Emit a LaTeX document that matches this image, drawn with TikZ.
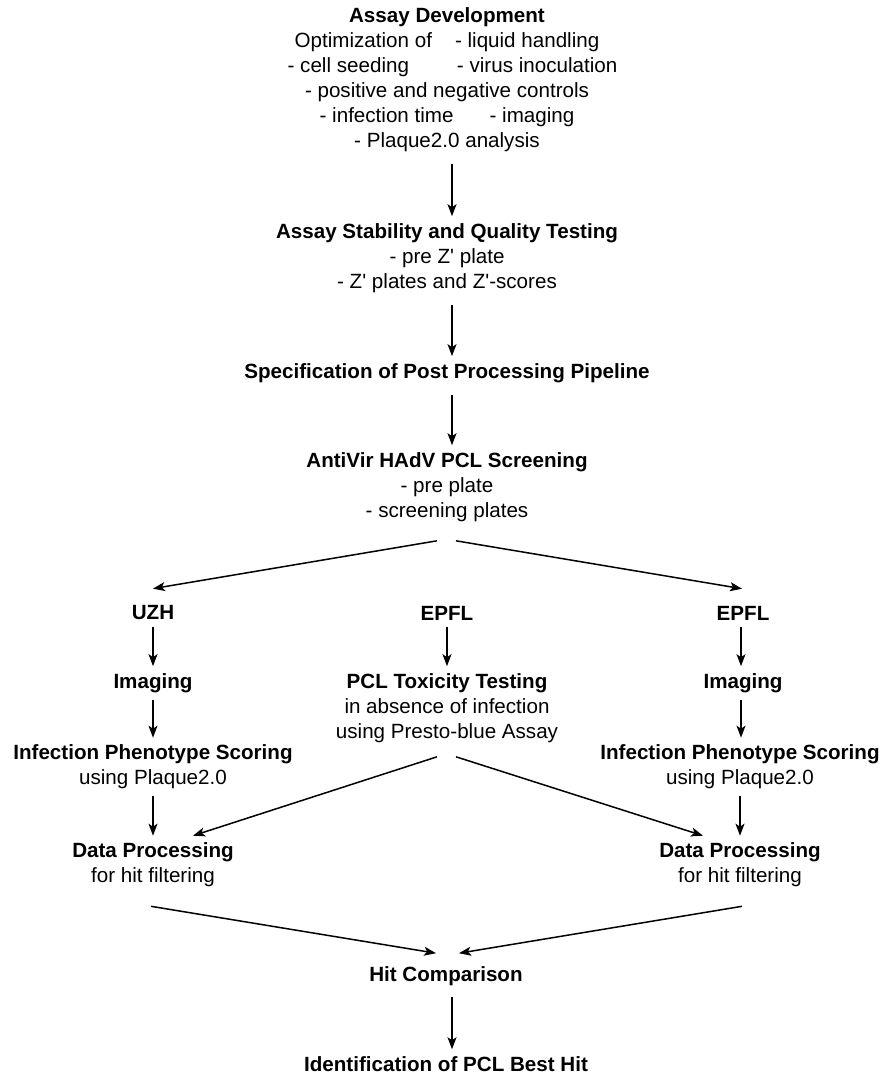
\documentclass[tikz,border=0pt]{standalone}
\usepackage{fontspec}
\setmainfont{Liberation Sans}
\usetikzlibrary{arrows.meta}
\begin{document}
\begin{tikzpicture}
[x=1pt,y=-1pt, t/.style={align=center,inner sep=7pt,font=\fontsize{20.6}{25}\selectfont},
arr/.style={-{Stealth[length=12pt,width=9pt,inset=3pt]},line width=1.5pt}]
\useasboundingbox (0,0) rectangle (883,1076);
% main line
\node(dev) at (447,80)[t]{\textbf{Assay Development}\\Optimization of\hspace{23pt}- liquid handling\\
\hspace*{11pt}- cell seeding\hspace{48pt}- virus inoculation\\- positive and negative controls\\
- infection time\hspace{36pt}- imaging\\- Plaque2.0 analysis};
\node(stab) at (447,258)[t]{\textbf{Assay Stability and Quality Testing}\\- pre Z\textquotesingle{} plate\\
- Z\textquotesingle{} plates and Z\textquotesingle-scores};
\node(spec) at (447,373)[t]{\textbf{Specification of Post Processing Pipeline}};
\node(scr) at (447,487)[t]{\textbf{AntiVir HAdV PCL Screening}\\- pre plate\\- screening plates};
% three branches
\node(uzh) at (153,613)[t]{\textbf{UZH}};\node(ep) at (447,613)[t]{\textbf{EPFL}};\node(epr) at (743,613)[t]{\textbf{EPFL}};
\node(imgl) at (153,683)[t]{\textbf{Imaging}};\node(imgr) at (743,683)[t]{\textbf{Imaging}};
\node(tox) at (447,708)[t]{\textbf{PCL Toxicity Testing}\\in absence of infection\\using Presto-blue Assay};
\node(phl) at (153,767)[t]{\textbf{Infection Phenotype Scoring}\\using Plaque2.0};
\node(phr) at (740,767)[t]{\textbf{Infection Phenotype Scoring}\\using Plaque2.0};
\node(dpl) at (153,865)[t]{\textbf{Data Processing}\\for hit filtering};
\node(dpr) at (740,865)[t]{\textbf{Data Processing}\\for hit filtering};
\node(hit) at (446,976)[t]{\textbf{Hit Comparison}};
\node(best) at (446,1064)[t]{\textbf{Identification of PCL Best Hit}};
% arrows
\draw[arr,shorten <=5pt]([xshift=5pt]dev.south)--([xshift=5pt]stab.north);
\draw[arr,shorten <=5pt]([xshift=5pt]stab.south)--([xshift=5pt]spec.north);
\draw[arr,shorten <=5pt]([xshift=5pt]spec.south)--([xshift=5pt]scr.north);
\draw[arr]([xshift=-10pt,yshift=-12pt]scr.south)--([yshift=10pt]uzh.north);
\draw[arr]([xshift=9pt,yshift=-12pt]scr.south)--([xshift=-1pt,yshift=10pt]epr.north);
\draw[arr](uzh)--(imgl);\draw[arr](ep)--(tox);\draw[arr]([xshift=-2pt]epr.south)--([xshift=-2pt]imgr.north);
\draw[arr](imgl)--(phl);\draw[arr]([xshift=-2pt]imgr.south)--([xshift=1pt]phr.north);
\draw[arr]([xshift=-10pt,yshift=-7pt]tox.south)--([xshift=40pt]dpl.north);
\draw[arr]([xshift=9pt,yshift=-7pt]tox.south)--([xshift=-37pt]dpr.north);
\draw[arr](phl)--(dpl);\draw[arr](phr)--(dpr);
\draw[arr]([xshift=-2pt,yshift=-12pt]dpl.south)--([xshift=-10pt,yshift=6pt]hit.north);
\draw[arr]([xshift=2pt,yshift=-12pt]dpr.south)--([xshift=13pt,yshift=6pt]hit.north);
\draw[arr,shorten <=4pt]([xshift=6pt]hit.south)--([xshift=6pt]best.north);
\end{tikzpicture}
\end{document}
